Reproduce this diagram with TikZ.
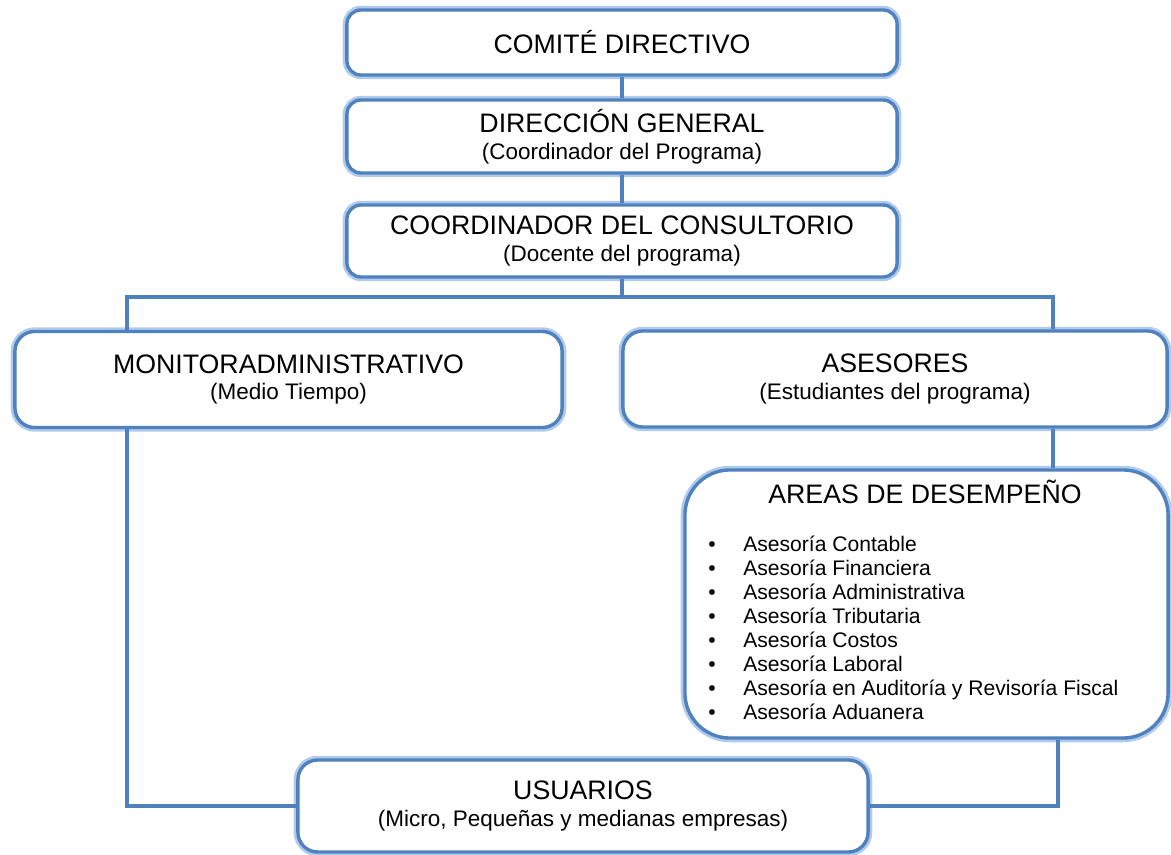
\documentclass[tikz,border=0pt]{standalone}
\usepackage{fontspec}
\setmainfont{Liberation Sans}
\definecolor{boxblue}{RGB}{79,129,189}
\definecolor{glowblue}{RGB}{176,202,236}
\newcommand{\bigtxt}{\fontsize{19}{22}\selectfont}
\newcommand{\smalltxt}{\fontsize{16}{19}\selectfont}
\newcommand{\itemtxt}{\fontsize{15}{17}\selectfont}
\begin{document}
\begin{tikzpicture}[x=0.025cm, y=-0.025cm,
    box/.style={draw=boxblue, line width=2.4pt, fill=white, rounded corners=10pt,
        inner sep=0pt, align=center, font=\smalltxt,
        preaction={draw=glowblue, line width=6pt}},
    conn/.style={boxblue, line width=2.4pt}]
    \useasboundingbox (0,0) rectangle (1171,855);

    % top chain
    \node[box, minimum width=13.75cm, minimum height=1.625cm] (comite) at (622,42.5) {{\bigtxt COMITÉ DIRECTIVO}};
    \node[box, minimum width=13.75cm, minimum height=1.825cm] (direccion) at (622,136.5) {{\bigtxt DIRECCIÓN GENERAL}\\(Coordinador del Programa)};
    \node[box, minimum width=13.75cm, minimum height=1.8cm] (coordinador) at (622,241) {{\bigtxt COORDINADOR DEL CONSULTORIO}\\(Docente del programa)};

    % second level
    \node[box, rounded corners=14pt, minimum width=13.675cm, minimum height=2.4cm] (monitor) at (288.5,379.5) {{\bigtxt MONITORADMINISTRATIVO}\\(Medio Tiempo)};
    \node[box, rounded corners=14pt, minimum width=13.6cm, minimum height=2.4cm] (asesores) at (895,379) {{\bigtxt ASESORES}\\(Estudiantes del programa)};

    % areas
    \node[box, rounded corners=32pt, minimum width=12.075cm, minimum height=6.7cm] (areas) at (926.5,604) {};
    \node[font=\bigtxt] (areastit) at (925,492) {AREAS DE DESEMPEÑO};
    \foreach \t [count=\i] in {Asesoría Contable, Asesoría Financiera, Asesoría Administrativa,
        Asesoría Tributaria, Asesoría Costos, Asesoría Laboral,
        Asesoría en Auditoría y Revisoría Fiscal, Asesoría Aduanera} {
        \node[font=\itemtxt, inner sep=0pt, anchor=base] (dot\i) at (712,527+24*\i) {\textbullet};
        \node[font=\itemtxt, inner sep=0pt, anchor=base west] (item\i) at (743,527+24*\i) {\t};
    }

    \node[box, rounded corners=14pt, minimum width=14.25cm, minimum height=2.3cm] (usuarios) at (583,806) {{\bigtxt USUARIOS}\\(Micro, Pequeñas y medianas empresas)};

    % connectors
    \coordinate (split) at (622,297);
    \coordinate (lft) at (127,297); \coordinate (rgt) at (1053,297);
    \coordinate (dwn) at (1058,806);
    \draw[conn] (comite) -- (direccion);
    \draw[conn] (direccion) -- (coordinador);
    \draw[conn] (coordinador.south) -- (split);
    \draw[conn] (monitor.north -| lft) -- (lft) -- (rgt) -- (asesores.north -| rgt);
    \draw[conn] (asesores.south -| rgt) -- (areas.north -| rgt);
    \draw[conn] (monitor.south -| lft) |- (usuarios.west);
    \draw[conn] (areas.south -| dwn) |- (usuarios.east);
\end{tikzpicture}
\end{document}
